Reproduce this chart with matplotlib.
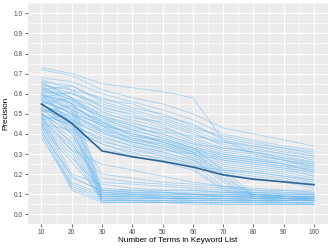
import numpy as np
import matplotlib
matplotlib.use("Agg")
import matplotlib.pyplot as plt
from matplotlib.ticker import MultipleLocator

plt.rcParams["font.family"] = ["Liberation Sans", "DejaVu Sans"]

terms = [10, 20, 30, 40, 50, 60, 70, 80, 90, 100]

# gradual decliners
gradual = [
    [0.73, 0.70, 0.65, 0.63, 0.61, 0.58, 0.37, 0.30, 0.27, 0.25],
    [0.72, 0.69, 0.62, 0.58, 0.55, 0.50, 0.43, 0.40, 0.37, 0.34],
    [0.68, 0.66, 0.60, 0.56, 0.52, 0.47, 0.40, 0.37, 0.34, 0.32],
    [0.67, 0.62, 0.58, 0.53, 0.50, 0.44, 0.38, 0.35, 0.33, 0.30],
    [0.66, 0.64, 0.57, 0.55, 0.49, 0.45, 0.37, 0.34, 0.32, 0.29],
    [0.65, 0.60, 0.55, 0.51, 0.47, 0.42, 0.36, 0.33, 0.30, 0.28],
    [0.64, 0.62, 0.53, 0.50, 0.45, 0.40, 0.35, 0.32, 0.30, 0.27],
    [0.63, 0.58, 0.52, 0.48, 0.46, 0.41, 0.34, 0.31, 0.29, 0.26],
    [0.62, 0.57, 0.50, 0.47, 0.43, 0.38, 0.33, 0.31, 0.28, 0.25],
    [0.61, 0.60, 0.54, 0.49, 0.44, 0.37, 0.32, 0.30, 0.27, 0.24],
    [0.60, 0.55, 0.49, 0.45, 0.42, 0.36, 0.31, 0.29, 0.27, 0.23],
    [0.60, 0.53, 0.47, 0.43, 0.40, 0.35, 0.30, 0.28, 0.25, 0.22],
    [0.59, 0.56, 0.48, 0.44, 0.39, 0.34, 0.29, 0.27, 0.25, 0.21],
    [0.58, 0.52, 0.46, 0.42, 0.38, 0.33, 0.28, 0.26, 0.24, 0.20],
    [0.57, 0.50, 0.45, 0.40, 0.37, 0.32, 0.27, 0.25, 0.23, 0.19],
    [0.56, 0.51, 0.44, 0.41, 0.36, 0.31, 0.26, 0.24, 0.22, 0.19],
    [0.55, 0.48, 0.42, 0.38, 0.35, 0.30, 0.25, 0.23, 0.21, 0.18],
    [0.54, 0.49, 0.43, 0.37, 0.34, 0.29, 0.24, 0.22, 0.20, 0.17],
    [0.53, 0.46, 0.40, 0.36, 0.33, 0.28, 0.23, 0.21, 0.19, 0.16],
    [0.52, 0.47, 0.41, 0.35, 0.31, 0.27, 0.22, 0.20, 0.18, 0.15],
    [0.50, 0.44, 0.38, 0.34, 0.30, 0.26, 0.21, 0.19, 0.17, 0.14],
    [0.49, 0.45, 0.36, 0.33, 0.29, 0.25, 0.20, 0.18, 0.16, 0.13],
    [0.62, 0.64, 0.56, 0.52, 0.48, 0.43, 0.39, 0.36, 0.33, 0.31],
    [0.58, 0.61, 0.51, 0.46, 0.41, 0.39, 0.36, 0.34, 0.31, 0.29],
    [0.55, 0.58, 0.49, 0.44, 0.40, 0.35, 0.33, 0.31, 0.28, 0.26],
    [0.51, 0.54, 0.45, 0.39, 0.37, 0.33, 0.30, 0.28, 0.26, 0.24],
    [0.47, 0.50, 0.42, 0.36, 0.32, 0.30, 0.27, 0.25, 0.23, 0.21],
    [0.45, 0.42, 0.35, 0.30, 0.28, 0.24, 0.22, 0.21, 0.19, 0.17],
    [0.66, 0.58, 0.46, 0.39, 0.36, 0.32, 0.29, 0.27, 0.25, 0.23],
    [0.64, 0.55, 0.44, 0.37, 0.35, 0.31, 0.28, 0.26, 0.24, 0.22],
]

# drop around 70-80
late_drop = [
    [0.63, 0.57, 0.48, 0.42, 0.38, 0.33, 0.22, 0.10, 0.09, 0.08],
    [0.61, 0.54, 0.46, 0.40, 0.36, 0.31, 0.20, 0.09, 0.08, 0.08],
    [0.59, 0.52, 0.44, 0.38, 0.34, 0.30, 0.18, 0.10, 0.09, 0.09],
    [0.57, 0.50, 0.41, 0.36, 0.33, 0.28, 0.17, 0.09, 0.08, 0.07],
    [0.55, 0.47, 0.39, 0.34, 0.31, 0.27, 0.16, 0.08, 0.08, 0.07],
    [0.53, 0.45, 0.37, 0.32, 0.29, 0.25, 0.14, 0.10, 0.09, 0.08],
    [0.52, 0.43, 0.35, 0.31, 0.27, 0.23, 0.13, 0.09, 0.08, 0.08],
    [0.50, 0.41, 0.33, 0.29, 0.26, 0.22, 0.12, 0.08, 0.07, 0.07],
]

# drop at 30
drop_30 = [
    [0.65, 0.58, 0.12, 0.11, 0.11, 0.10, 0.10, 0.09, 0.09, 0.09],
    [0.62, 0.55, 0.11, 0.10, 0.10, 0.10, 0.09, 0.09, 0.08, 0.08],
    [0.60, 0.52, 0.10, 0.10, 0.09, 0.09, 0.09, 0.08, 0.08, 0.08],
    [0.58, 0.50, 0.09, 0.09, 0.09, 0.08, 0.08, 0.08, 0.07, 0.07],
    [0.57, 0.48, 0.08, 0.08, 0.08, 0.08, 0.07, 0.07, 0.07, 0.07],
    [0.55, 0.46, 0.07, 0.07, 0.07, 0.07, 0.07, 0.06, 0.06, 0.06],
    [0.53, 0.44, 0.06, 0.06, 0.06, 0.06, 0.06, 0.06, 0.05, 0.05],
    [0.52, 0.42, 0.12, 0.12, 0.11, 0.11, 0.11, 0.10, 0.10, 0.10],
    [0.50, 0.40, 0.11, 0.11, 0.10, 0.10, 0.10, 0.10, 0.09, 0.09],
    [0.49, 0.38, 0.10, 0.09, 0.09, 0.09, 0.09, 0.09, 0.09, 0.08],
    [0.48, 0.36, 0.09, 0.08, 0.08, 0.08, 0.08, 0.08, 0.08, 0.07],
    [0.47, 0.34, 0.08, 0.07, 0.07, 0.07, 0.07, 0.07, 0.06, 0.06],
    [0.46, 0.32, 0.07, 0.07, 0.06, 0.06, 0.06, 0.06, 0.06, 0.05],
    [0.45, 0.30, 0.06, 0.06, 0.06, 0.05, 0.05, 0.05, 0.05, 0.05],
    [0.44, 0.28, 0.13, 0.12, 0.12, 0.12, 0.11, 0.11, 0.11, 0.10],
    [0.43, 0.26, 0.09, 0.09, 0.08, 0.08, 0.08, 0.07, 0.07, 0.07],
    [0.60, 0.45, 0.20, 0.18, 0.16, 0.15, 0.14, 0.12, 0.11, 0.11],
    [0.56, 0.40, 0.18, 0.16, 0.15, 0.14, 0.13, 0.12, 0.12, 0.11],
    [0.51, 0.35, 0.16, 0.15, 0.14, 0.13, 0.12, 0.11, 0.10, 0.10],
    [0.48, 0.32, 0.25, 0.22, 0.19, 0.16, 0.14, 0.13, 0.12, 0.12],
]

# drop at 20
drop_20 = [
    [0.50, 0.20, 0.15, 0.13, 0.12, 0.12, 0.11, 0.11, 0.10, 0.10],
    [0.48, 0.18, 0.12, 0.11, 0.11, 0.10, 0.10, 0.10, 0.09, 0.09],
    [0.46, 0.16, 0.10, 0.10, 0.09, 0.09, 0.09, 0.08, 0.08, 0.08],
    [0.44, 0.14, 0.08, 0.08, 0.08, 0.07, 0.07, 0.07, 0.07, 0.07],
    [0.42, 0.13, 0.07, 0.07, 0.07, 0.06, 0.06, 0.06, 0.06, 0.06],
    [0.40, 0.12, 0.06, 0.06, 0.06, 0.06, 0.05, 0.05, 0.05, 0.05],
    [0.38, 0.15, 0.09, 0.09, 0.08, 0.08, 0.08, 0.07, 0.07, 0.07],
    [0.41, 0.19, 0.11, 0.10, 0.10, 0.10, 0.09, 0.09, 0.09, 0.08],
]

all_series = gradual + late_drop + drop_30 + drop_20
mean_precision = np.mean(np.array(all_series), axis=0)
y_ticks = [0.0, 0.1, 0.2, 0.3, 0.4, 0.5, 0.6, 0.7, 0.8, 0.9, 1.0]

fig = plt.figure(figsize=(3.32, 2.49), dpi=100)
ax = fig.add_axes([0.0837, 0.0988, 0.9033, 0.888])
ax.set_facecolor("#EBEBEB")

for s in all_series:
    ax.plot(terms, s, color="#6DBBF2", alpha=0.55, lw=0.6, zorder=2)
ax.plot(terms, mean_precision, color="#2F6596", lw=1.2, zorder=3)

ax.set_xlim(5.5, 104.5)
ax.set_ylim(-0.05, 1.05)
ax.set_xticks(terms)
ax.set_yticks(y_ticks)
ax.set_yticklabels([f"{v:.1f}" for v in y_ticks])
ax.xaxis.set_minor_locator(MultipleLocator(5))
ax.yaxis.set_minor_locator(MultipleLocator(0.05))

ax.grid(which="major", color="white", lw=0.8, zorder=0)
ax.grid(which="minor", color="white", lw=0.4, zorder=0)
ax.set_axisbelow(True)
for sp in ax.spines.values():
    sp.set_visible(False)
ax.tick_params(which="major", length=2.2, width=0.5, color="#333333",
               labelsize=4.8, labelcolor="#4D4D4D", pad=1.2)
ax.tick_params(which="minor", length=0)

ax.set_xlabel("Number of Terms in Keyword List", fontsize=5.9)
ax.set_ylabel("Precision", fontsize=5.9)
ax.xaxis.set_label_coords(0.5, -0.074)
ax.xaxis.label.set_va("center")
ax.yaxis.set_label_coords(-0.074, 0.5)
ax.yaxis.label.set_va("center")

fig.savefig("out.png", dpi=100)
